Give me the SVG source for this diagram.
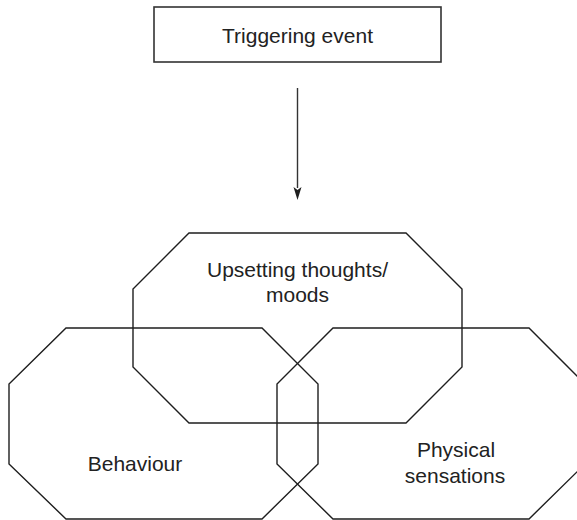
<svg xmlns="http://www.w3.org/2000/svg" width="577" height="520" viewBox="0 0 577 520">
<style>
.shape{fill:none;stroke:#1e1e1e;stroke-width:1.4;stroke-linejoin:miter}
.box{fill:none;stroke:#333;stroke-width:1.6}
.t{font-family:"Liberation Sans",Arial,sans-serif;font-size:21px;fill:#222;text-anchor:middle}
.conn{stroke:#333;stroke-width:1.4;fill:none}
</style>
<defs>
<marker id="arr" markerWidth="9" markerHeight="14" refX="4.5" refY="13" orient="auto-start-reverse" markerUnits="userSpaceOnUse" viewBox="0 0 9 14">
<path d="M0,0 L4.5,3 L9,0 L4.5,13 Z" fill="#1e1e1e" transform="rotate(-90 4.5 7)"/>
</marker>
</defs>
<g id="triggering-event">
<rect class="box" x="154" y="7" width="287" height="55"/>
<text class="t" x="297.5" y="43">Triggering event</text>
</g>
<g id="upsetting-thoughts">
<polygon class="shape" points="189,233 406,233 462,289 462,367 406,423 189,423 133,367 133,289"/>
<text class="t" x="297.5" y="276.5">Upsetting thoughts/</text>
<text class="t" x="297.5" y="302">moods</text>
</g>
<g id="behaviour">
<polygon class="shape" points="66,328 262,328 318,384 318,464 262,519 66,519 9,464 9,384"/>
<text class="t" x="135" y="471">Behaviour</text>
</g>
<g id="physical-sensations">
<polygon class="shape" points="333,328 529,328 585,384 585,464 529,519 333,519 277,464 277,384"/>
<text class="t" x="456" y="456.5">Physical</text>
<text class="t" x="455" y="483">sensations</text>
</g>
<g id="connectors">
<line class="conn" x1="297.5" y1="88" x2="297.5" y2="188"/>
<path d="M293.5,187 L297.5,190 L301.5,187 L297.5,200 Z" fill="#1e1e1e"/>
</g>
</svg>
